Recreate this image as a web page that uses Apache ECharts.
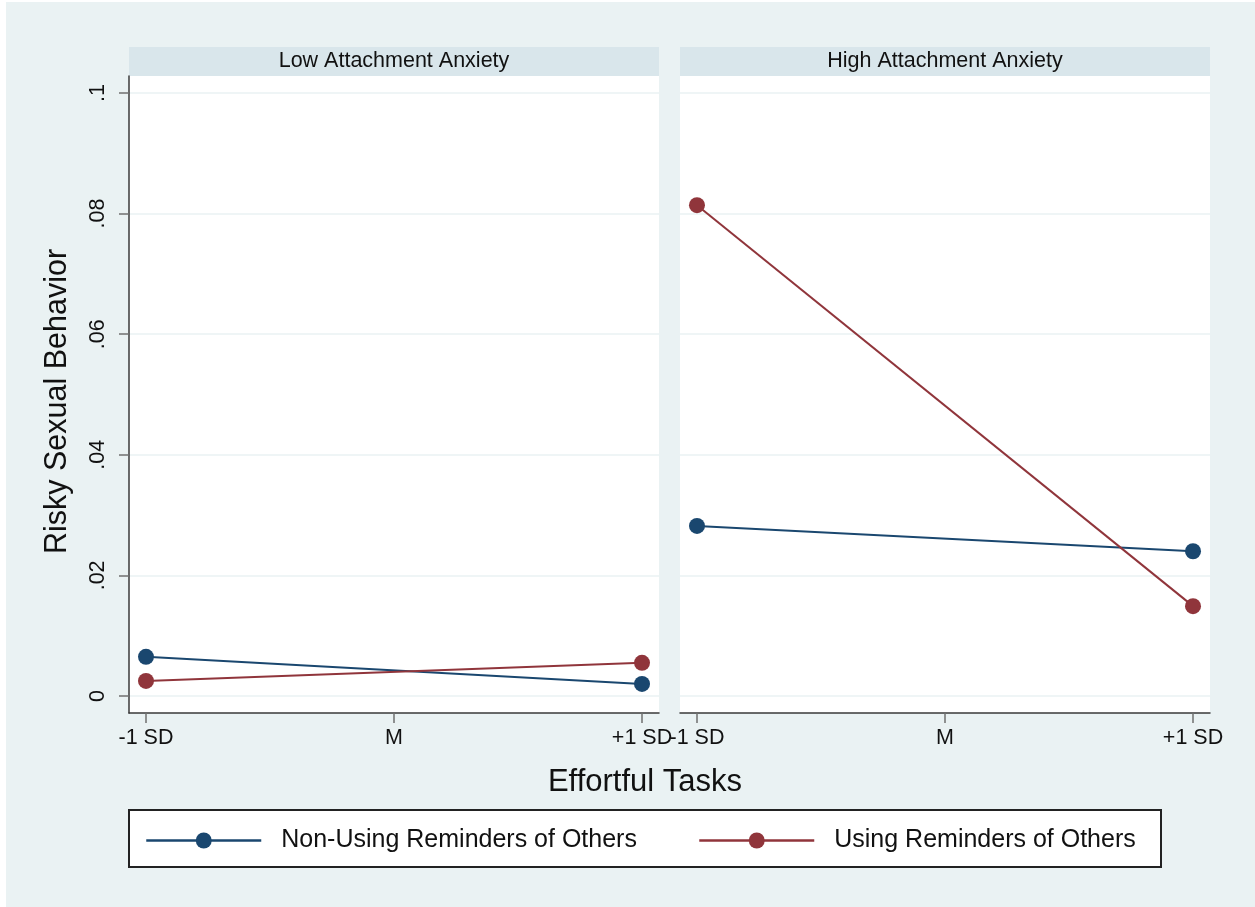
<!DOCTYPE html>
<html>
<head>
<meta charset="utf-8">
<script src="https://cdn.jsdelivr.net/npm/echarts@6/dist/echarts.min.js"></script>
<style>
html,body{margin:0;padding:0;background:#ffffff;}
#wrap{position:relative;width:1255px;height:907px;}
#bg{position:absolute;left:6px;top:2px;width:1249px;height:905px;background:#eaf2f3;}
#chart{position:absolute;left:0;top:0;width:1255px;height:907px;}
</style>
</head>
<body>
<div id="wrap"><div id="bg"></div><div id="chart"></div></div>
<script>
// ---- data ----
const panels = ["Low Attachment Anxiety", "High Attachment Anxiety"];
const xTickValues = [-1, 0, 1];
const xTickLabels = ["-1 SD", "M", "+1 SD"];
const yTickValues = [0, 0.02, 0.04, 0.06, 0.08, 0.1];
const yTickLabels = ["0", ".02", ".04", ".06", ".08", ".1"];
const seriesNames = ["Non-Using Reminders of Others", "Using Reminders of Others"];
const pointX = [-1, 1];
const lowNonUsing = [0.0065, 0.0020];
const lowUsing = [0.0025, 0.0055];
const highNonUsing = [0.0282, 0.0240];
const highUsing = [0.0814, 0.0149];
const yTitle = "Risky Sexual Behavior";
const xTitle = "Effortful Tasks";

const colors = ["#1a476f", "#90353b"];
const FONT = "'Liberation Sans', Arial, sans-serif";

const gridLeft = [129, 680];
const gridW = 530, gridTop = 76, gridH = 637;

function pts(vals){ return vals.map((v,i)=>[pointX[i], v]); }

function mkX(i){
  return {
    type:'value', gridIndex:i, min:-1.0685, max:1.0685,
    axisLine:{show:true, onZero:false, lineStyle:{color:'#3a3a3a', width:1.5}},
    axisTick:{show:true, customValues:xTickValues, length:10, lineStyle:{color:'#707070', width:1.5}},
    axisLabel:{show:true, customValues:xTickValues, margin:14, color:'#111', fontFamily:FONT, fontSize:21.5,
      formatter:(v)=>{ const k = xTickValues.findIndex(t=>Math.abs(t-v)<1e-9); return k>=0?xTickLabels[k]:''; }},
    splitLine:{show:false}
  };
}
function mkY(i){
  const first = i===0;
  return {
    type:'value', gridIndex:i, min:-0.00282, max:0.10282,
    name: first ? yTitle : '', nameLocation:'middle', nameRotate:90, nameGap:56,
    nameTextStyle:{fontFamily:FONT, fontSize:30.5, color:'#111', padding:[0,14,0,0]},
    axisLine:{show:first, onZero:false, lineStyle:{color:'#3a3a3a', width:1.5}},
    axisTick:{show:first, customValues:yTickValues, length:10, lineStyle:{color:'#707070', width:1.5}},
    axisLabel:{show:first, customValues:yTickValues, rotate:90, margin:20, color:'#111', fontFamily:FONT, fontSize:21.5,
      formatter:(v)=>{ const k = yTickValues.findIndex(t=>Math.abs(t-v)<1e-9); return k>=0?yTickLabels[k]:''; }},
    splitLine:{show:true, customValues:yTickValues, lineStyle:{color:'#eaf2f3', width:1.5}}
  };
}
function mkSeries(name, vals, gi, ci){
  return {
    name, type:'line', xAxisIndex:gi, yAxisIndex:gi, data:pts(vals),
    symbol:'circle', symbolSize:16, showSymbol:true,
    lineStyle:{color:colors[ci], width:2},
    itemStyle:{color:colors[ci]},
    emphasis:{disabled:true}, animation:false, z:5
  };
}
function mkLegend(name, left){
  return {data:[name], left:left, top:828, padding:0, itemWidth:115, itemHeight:20, itemGap:0,
    lineStyle:{width:2.5}, selectedMode:false,
    textStyle:{fontFamily:FONT, fontSize:25, color:'#111', padding:[0,0,0,15]}};
}

const chart = echarts.init(document.getElementById('chart'), null, {renderer:'canvas'});
const option = {
  animation:false,
  backgroundColor:'transparent',
  textStyle:{fontFamily:FONT},
  grid: gridLeft.map(l=>({left:l, top:gridTop, width:gridW, height:gridH, show:true, backgroundColor:'#ffffff', borderWidth:0, containLabel:false})),
  xAxis:[mkX(0), mkX(1)],
  yAxis:[mkY(0), mkY(1)],
  legend:[mkLegend(seriesNames[0], 145), mkLegend(seriesNames[1], 698)],
  graphic:[
    {type:'rect', z:-1, shape:{x:129, y:47, width:530, height:29}, style:{fill:'#d9e6eb'}},
    {type:'rect', z:-1, shape:{x:680, y:47, width:530, height:29}, style:{fill:'#d9e6eb'}},
    {type:'text', x:394, y:61, style:{text:panels[0], font:"21.5px 'Liberation Sans', Arial, sans-serif", fill:'#111', align:'center', verticalAlign:'middle'}},
    {type:'text', x:945, y:61, style:{text:panels[1], font:"21.5px 'Liberation Sans', Arial, sans-serif", fill:'#111', align:'center', verticalAlign:'middle'}},
    {type:'text', x:645, y:782, style:{text:xTitle, font:"31px 'Liberation Sans', Arial, sans-serif", fill:'#111', align:'center', verticalAlign:'middle'}},
    {type:'rect', z:-1, shape:{x:129, y:810, width:1032, height:57}, style:{fill:'#ffffff', stroke:'#222', lineWidth:2}}
  ],
  series:[
    mkSeries(seriesNames[0], lowNonUsing, 0, 0),
    mkSeries(seriesNames[1], lowUsing, 0, 1),
    mkSeries(seriesNames[0], highNonUsing, 1, 0),
    mkSeries(seriesNames[1], highUsing, 1, 1)
  ]
};
chart.setOption(option);
</script>
</body>
</html>
